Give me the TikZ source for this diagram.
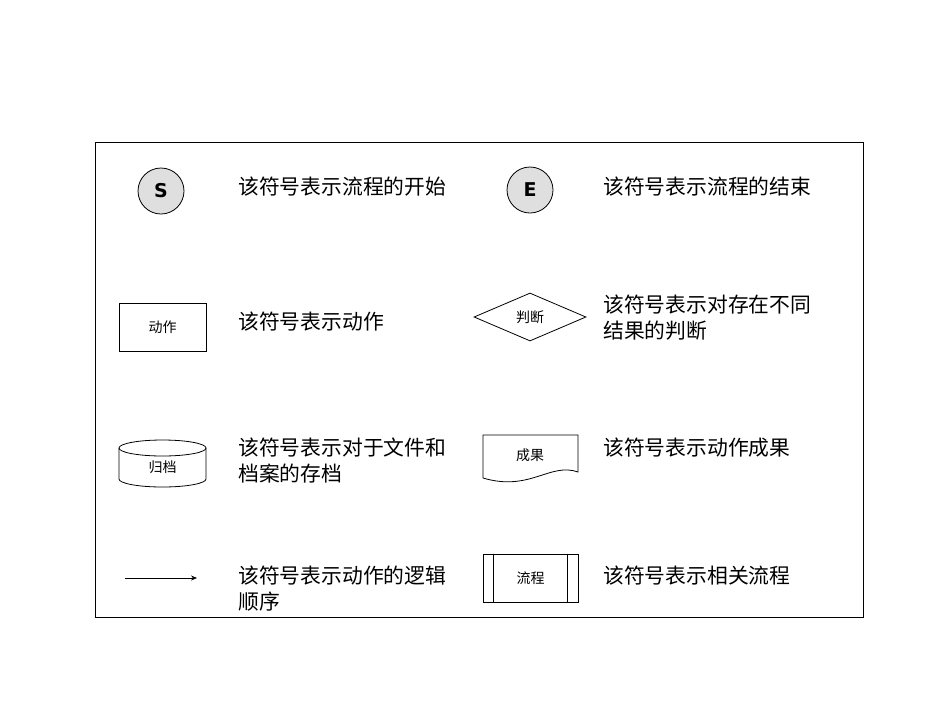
\documentclass[tikz,border=0pt]{standalone}
\usepackage{fontspec}
\setmainfont{DejaVu Sans}
\newfontfamily\cjk{Noto Sans CJK SC}
\usetikzlibrary{shapes.geometric,arrows.meta}
\begin{document}
\begin{tikzpicture}[x=1pt,y=-1pt,
  desc/.style={anchor=north west,font=\cjk\fontsize{20.8}{25.5}\selectfont,align=left,inner sep=0pt},
  small/.style={font=\cjk\fontsize{14}{16}\selectfont},
  sym/.style={draw,line width=0.8pt}]
\useasboundingbox (0,0) rectangle (950,713);
\node[draw,line width=0.8pt,minimum width=768pt,minimum height=475pt,anchor=north west] (frame) at (95,142) {};
% start / end
\node[sym,circle,fill=gray!25,minimum size=46pt,inner sep=0pt,font=\bfseries\fontsize{19}{20}\selectfont] (s) at (161,191) {S};
\node[sym,circle,fill=gray!25,minimum size=46pt,inner sep=0pt,font=\bfseries\fontsize{19}{20}\selectfont] (e) at (530,190) {E};
\node[desc] (ts) at (238,177) {该符号表示流程的开始};
\node[desc] (te) at (603,177) {该符号表示流程的结束};
% action
\node[sym,minimum width=87pt,minimum height=48pt,small] (act) at (162.5,327) {动作};
\node[desc] (ta) at (238,312) {该符号表示动作};
% decision
\node[sym,diamond,aspect=2.33,minimum width=112pt,minimum height=48pt,inner sep=0pt,small] (dec) at (530,317) {};
\node[small] (dect) at (530,317) {判断};
\node[desc] (td) at (603,295) {该符号表示对存在不同\\结果的判断};
% cylinder
\draw[sym] (119,448) -- (119,479) arc[start angle=180,end angle=360,x radius=43.5pt,y radius=8pt] -- (206,448);
\draw[sym] (162.5,448) ellipse[x radius=43.5pt,y radius=8pt];
\node[small] (cyl) at (162.5,467) {归档};
\node[desc] (tc) at (238,438) {该符号表示对于文件和\\档案的存档};
% document
\draw[sym] (483,478) -- (483,435) -- (578,435) -- (578,472) .. controls (550,462) and (530,492) .. (483,478);
\node[small] (doc) at (530,455) {成果};
\node[desc] (tdoc) at (603,438) {该符号表示动作成果};
% arrow
\coordinate (a1) at (125,578);
\coordinate (a2) at (197,578);
\draw[line width=0.8pt,-{Stealth[length=6pt,width=5pt]}] (a1) -- (a2);
\node[desc] (tarr) at (238,566) {该符号表示动作的逻辑\\顺序};
% process
\node[sym,minimum width=95pt,minimum height=48pt,small] (proc) at (530.5,578) {流程};
\draw[sym] ([xshift=11pt]proc.north west) -- ([xshift=11pt]proc.south west);
\draw[sym] ([xshift=-11pt]proc.north east) -- ([xshift=-11pt]proc.south east);
\node[desc] (tp) at (603,566) {该符号表示相关流程};
\end{tikzpicture}
\end{document}
